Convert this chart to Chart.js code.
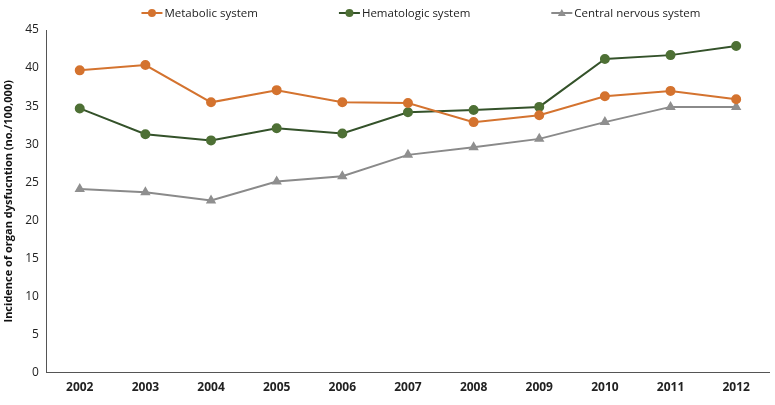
<!DOCTYPE html>
<html>
<head>
<meta charset="utf-8">
<script src="https://cdn.jsdelivr.net/npm/chart.js@4"></script>
<style>
  html, body { margin: 0; padding: 0; background: #fff; }
  #wrap { width: 775px; height: 405px; }
</style>
</head>
<body>
<div id="wrap"><canvas id="orgChart"></canvas></div>
<script>
// years on the x axis
const years = ["2002", "2003", "2004", "2005", "2006", "2007", "2008", "2009", "2010", "2011", "2012"];

// incidence per 100,000
const metabolic = [39.7, 40.4, 35.5, 37.1, 35.5, 35.4, 32.9, 33.8, 36.3, 37.0, 35.9];
const hematologic = [34.7, 31.3, 30.5, 32.1, 31.4, 34.2, 34.5, 34.9, 41.2, 41.7, 42.9];
const centralNervous = [24.1, 23.7, 22.6, 25.1, 25.8, 28.6, 29.6, 30.7, 32.9, 34.9, 34.9];

const yTicks = [0, 5, 10, 15, 20, 25, 30, 35, 40, 45];

const FONT = "'Open Sans', 'Liberation Sans', sans-serif";

const series = [
  { label: "Metabolic system", data: metabolic, color: "#D4732F", line: "#D4732F", marker: "circle" },
  { label: "Hematologic system", data: hematologic, color: "#4E7035", line: "#34522A", marker: "circle" },
  { label: "Central nervous system", data: centralNervous, color: "#8F8F8F", line: "#8A8A8A", marker: "triangle" }
];

// legend drawn by hand : line + marker, wide gaps between items
const topLegend = {
  id: "topLegend",
  afterDraw(chart) {
    const c = chart.ctx;
    const gap = 81, icon = 21, textGap = 2, y = 13;
    c.save();
    c.font = "11.5px " + FONT;
    c.textBaseline = "middle";
    let total = 0;
    const widths = series.map(s => c.measureText(s.label).width);
    widths.forEach((w, i) => { total += icon + textGap + w + (i > 0 ? gap : 0); });
    let x = (chart.chartArea.left + chart.chartArea.right) / 2 + 13 - total / 2;
    series.forEach((s, i) => {
      c.strokeStyle = s.line;
      c.lineWidth = 2;
      c.beginPath(); c.moveTo(x, y); c.lineTo(x + icon, y); c.stroke();
      c.fillStyle = s.color;
      c.beginPath();
      const cx = x + icon / 2;
      if (s.marker === "triangle") {
        c.moveTo(cx, y - 4); c.lineTo(cx + 4, y + 3); c.lineTo(cx - 4, y + 3); c.closePath();
      } else {
        c.arc(cx, y, 4, 0, Math.PI * 2);
      }
      c.fill();
      c.fillStyle = "#222";
      c.fillText(s.label, x + icon + textGap, y + 1);
      x += icon + textGap + widths[i] + gap;
    });
    c.restore();
  }
};

const ctx = document.getElementById("orgChart").getContext("2d");

new Chart(ctx, {
  type: "line",
  data: {
    labels: years,
    datasets: series.map(s => ({
      label: s.label,
      data: s.data,
      borderColor: s.line,
      backgroundColor: s.color,
      pointBackgroundColor: s.color,
      pointBorderColor: s.color,
      pointStyle: s.marker,
      pointRadius: 4,
      borderWidth: 2,
      fill: false,
      tension: 0
    }))
  },
  options: {
    responsive: true,
    maintainAspectRatio: false,
    animation: false,
    layout: { padding: { left: 2, right: 0, top: 30, bottom: 2 } },
    plugins: {
      legend: { display: false },
      tooltip: { enabled: false }
    },
    scales: {
      x: {
        offset: true,
        grid: { display: false, drawTicks: false },
        border: { display: true, color: "#555", width: 1 },
        ticks: { color: "#222", padding: 8, font: { family: FONT, size: 12, weight: "bold" } }
      },
      y: {
        min: 0,
        max: 45,
        afterBuildTicks: function(axis) {
          axis.ticks = yTicks.map(v => ({ value: v }));
        },
        grid: { display: false, drawTicks: false },
        border: { display: true, color: "#555", width: 1 },
        ticks: { color: "#222", padding: 8, font: { family: FONT, size: 12 } },
        title: {
          display: true,
          text: "Incidence of organ dysfucntion (no./100,000)",
          color: "#111",
          padding: { top: 0, bottom: 2 },
          font: { family: FONT, size: 11, weight: "bold" }
        }
      }
    }
  },
  plugins: [topLegend]
});
</script>
</body>
</html>
